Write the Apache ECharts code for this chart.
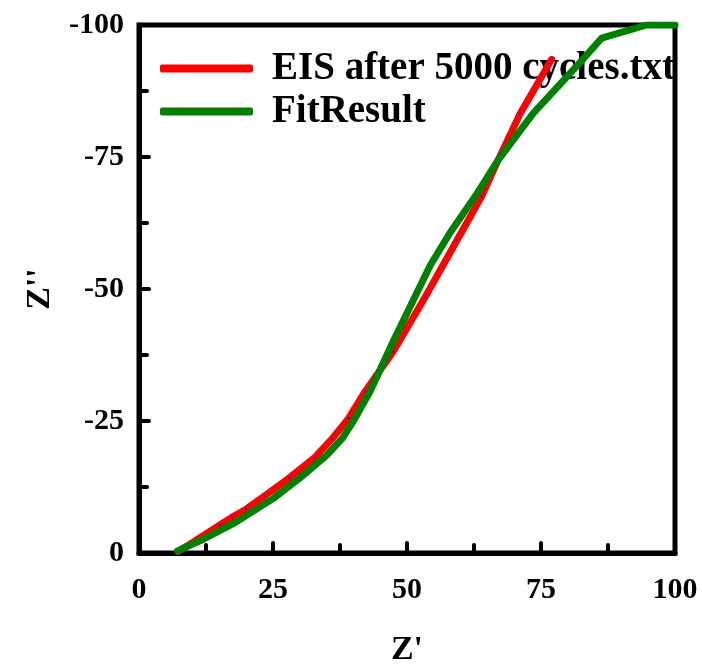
<!DOCTYPE html>
<html>
<head>
<meta charset="utf-8">
<script src="https://cdn.jsdelivr.net/npm/echarts@6/dist/echarts.min.js"></script>
<style>
  html, body { margin: 0; padding: 0; background: #fff; }
  #chart { width: 702px; height: 672px; }
</style>
</head>
<body>
<div id="chart"></div>
<script>
// measured data (Z', Z'')
const eisX = [7.3, 10, 15.1, 17.3, 20, 23.4, 28, 32.8, 36, 39.1, 42.2, 47.4, 53.4, 59.3, 63.9, 67, 71.1, 77];
const eisY = [-0.3, -2, -5.3, -6.75, -8.3, -10.8, -14.2, -18.1, -21.6, -25.5, -30.6, -38.1, -48.5, -59.2, -67.5, -74.4, -83.2, -93.5];

const fitX = [7.2, 12, 18, 25, 30, 35, 38, 40, 43.1, 47.4, 54.3, 58, 62.7, 67, 73.5, 82.3, 86.3, 94.7, 100];
const fitY = [-0.4, -2.6, -5.8, -10.3, -14.2, -18.5, -21.8, -25, -30.6, -40, -54.4, -60.6, -67.5, -74.4, -83.2, -92.9, -97.5, -100, -100];

const legendNames = ['EIS after 5000 cycles.txt', 'FitResult'];
const lineColors = ['#ff0000', '#008000'];

const font = '"Liberation Serif", "Times New Roman", serif';

function pairs(xs, ys) {
    return xs.map((x, i) => [x, ys[i]]);
}

const axisCommon = {
    nameLocation: 'middle',
    nameTextStyle: { fontFamily: font, fontWeight: 'bold', fontSize: 34, color: '#000' },
    axisLine: { show: true, onZero: false, lineStyle: { color: '#000', width: 5 } },
    axisTick: { show: true, inside: true, length: 10, lineStyle: { color: '#000', width: 4, cap: 'round' } },
    minorTick: { show: true, splitNumber: 2, length: 8, lineStyle: { color: '#000', width: 4, cap: 'round' } },
    splitLine: { show: false }
};

const chart = echarts.init(document.getElementById('chart'));

chart.setOption({
    animation: false,
    grid: {
        left: 139, right: 27, top: 25, bottom: 111,
        show: true, borderColor: '#000', borderWidth: 5
    },
    legend: {
        orient: 'vertical',
        left: 155, top: 44,
        itemWidth: 93, itemHeight: 8, itemGap: 4,
        icon: 'roundRect',
        data: legendNames.map((n, i) => ({ name: n, itemStyle: { color: lineColors[i] } })),
        textStyle: {
            fontFamily: font, fontWeight: 'bold', fontSize: 39,
            color: '#000', padding: [0, 0, 0, 14]
        }
    },
    xAxis: Object.assign({}, axisCommon, {
        type: 'value',
        min: 0, max: 100, interval: 25,
        name: "Z'", nameGap: 80,
        axisLabel: { margin: 22, fontFamily: font, fontWeight: 'bold', fontSize: 30, color: '#000' }
    }),
    yAxis: Object.assign({}, axisCommon, {
        type: 'value',
        min: -100, max: 0, interval: 25, inverse: true,
        name: "Z''", nameGap: 82, nameRotate: 90,
        axisLabel: { margin: 15, fontFamily: font, fontWeight: 'bold', fontSize: 30, color: '#000' }
    }),
    series: [
        {
            name: legendNames[0],
            type: 'line',
            z: 5,
            data: pairs(eisX, eisY),
            lineStyle: { color: lineColors[0], width: 7, cap: 'round', join: 'round' },
            symbol: 'circle', symbolSize: 2,
            itemStyle: { color: '#0000ff' },
            showSymbol: true
        },
        {
            name: legendNames[1],
            type: 'line',
            z: 6,
            data: pairs(fitX, fitY),
            lineStyle: { color: lineColors[1], width: 7, cap: 'round', join: 'round' },
            itemStyle: { color: lineColors[1] },
            showSymbol: false
        }
    ]
});
</script>
</body>
</html>
